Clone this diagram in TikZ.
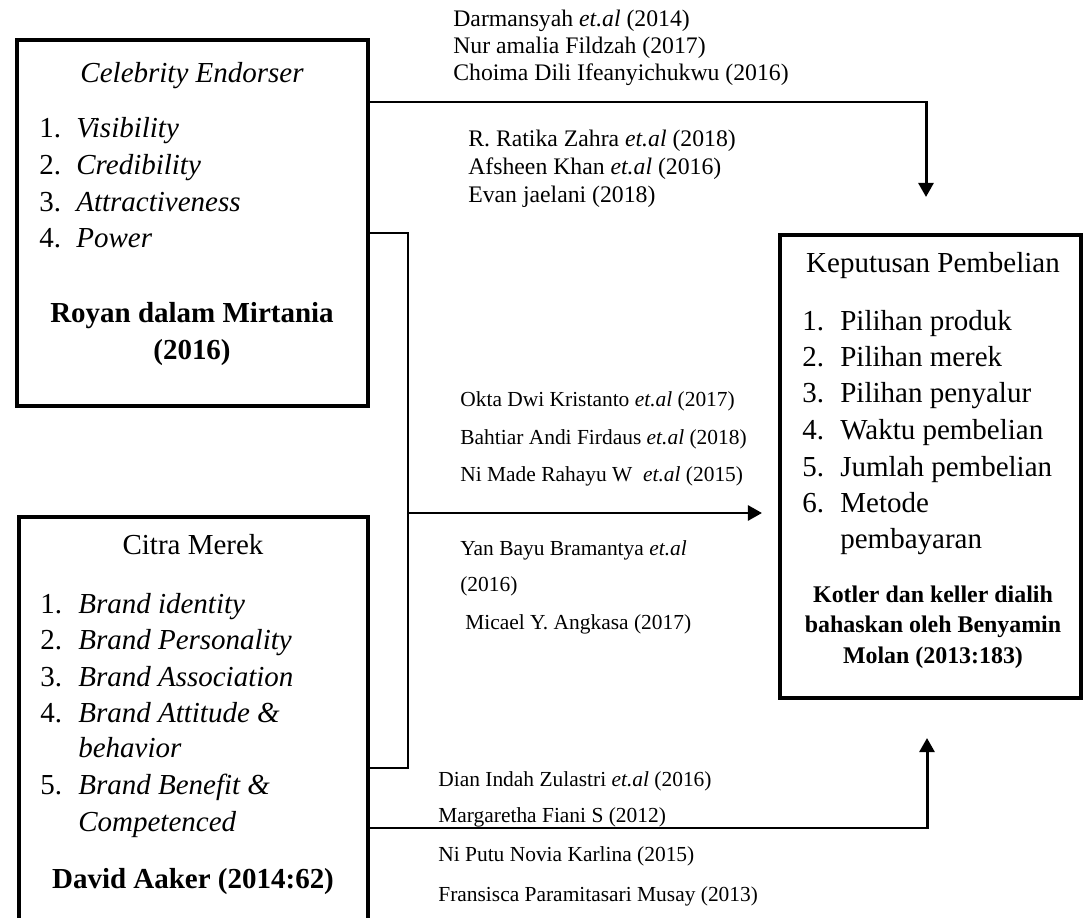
\documentclass[tikz,border=0pt]{standalone}
\usepackage{fontspec}
\setmainfont{Liberation Serif}
\usetikzlibrary{arrows.meta}

\begin{document}
\begin{tikzpicture}[
    x=0.02cm, y=-0.02cm,
    box/.style={rectangle, draw, line width=2.3pt, inner sep=0pt},
    txt/.style={inner sep=0pt, font=\fontsize{16.5}{20}\selectfont},
    ltxt/.style={txt, anchor=base west},
    ctxt/.style={txt, anchor=base},
    btxt/.style={inner sep=0pt, anchor=base, font=\fontsize{13.6}{16}\selectfont\bfseries},
    cite/.style={inner sep=0pt, anchor=base west, font=\fontsize{12.2}{14}\selectfont},
    bcite/.style={cite, font=\fontsize{13.5}{16}\selectfont},
    conn/.style={line width=1.7pt},
    arrow/.style={conn, -{Triangle[length=8pt,width=8.5pt]}},
]
\useasboundingbox (0,0) rectangle (1085,918);
% boxes
\node[box, minimum width=7.02cm, minimum height=7.32cm] (celeb) at (192.5,223) {};
\node[box, minimum width=6.98cm, minimum height=8.46cm] (citra) at (193.5,728.5) {};
\node[box, minimum width=6.02cm, minimum height=9.26cm] (kep)   at (930.5,466.5) {};
% Celebrity Endorser
\node[ctxt] (ce0) at (192,83) {\itshape Celebrity Endorser};
\node[ltxt] (ce1n) at (39,138) {1.};
\node[ltxt] (ce1)  at (76,138) {\itshape Visibility};
\node[ltxt] (ce2n) at (39,175) {2.};
\node[ltxt] (ce2)  at (76,175) {\itshape Credibility};
\node[ltxt] (ce3n) at (39,212) {3.};
\node[ltxt] (ce3)  at (76,212) {\itshape Attractiveness};
\node[ltxt] (ce4n) at (39,248) {4.};
\node[ltxt] (ce4)  at (76,248) {\itshape Power};
\node[ctxt] (ces1) at (192,323) {\bfseries Royan dalam Mirtania};
\node[ctxt] (ces2) at (192,360) {\bfseries (2016)};
% Citra Merek
\node[ctxt] (cm0) at (193,555) {Citra Merek};
\node[ltxt] (cm1n) at (40,613) {1.};
\node[ltxt] (cm1)  at (78,613) {\itshape Brand identity};
\node[ltxt] (cm2n) at (40,649) {2.};
\node[ltxt] (cm2)  at (78,649) {\itshape Brand Personality};
\node[ltxt] (cm3n) at (40,686) {3.};
\node[ltxt] (cm3)  at (78,686) {\itshape Brand Association};
\node[ltxt] (cm4n) at (40,722) {4.};
\node[ltxt] (cm4)  at (78,722) {\itshape Brand Attitude \&};
\node[ltxt] (cm4b) at (78,757) {\itshape behavior};
\node[ltxt] (cm5n) at (40,794) {5.};
\node[ltxt] (cm5)  at (78,794) {\itshape Brand Benefit \&};
\node[ltxt] (cm5b) at (78,831) {\itshape Competenced};
\node[ctxt] (cms)  at (193,888) {\bfseries David Aaker (2014:62)};
% Keputusan Pembelian
\node[ctxt] (kp0) at (933,273) {Keputusan Pembelian};
\node[ltxt] (kp1n) at (802,331) {1.};
\node[ltxt] (kp1)  at (840,331) {Pilihan produk};
\node[ltxt] (kp2n) at (802,367) {2.};
\node[ltxt] (kp2)  at (840,367) {Pilihan merek};
\node[ltxt] (kp3n) at (802,403) {3.};
\node[ltxt] (kp3)  at (840,403) {Pilihan penyalur};
\node[ltxt] (kp4n) at (802,440) {4.};
\node[ltxt] (kp4)  at (840,440) {Waktu pembelian};
\node[ltxt] (kp5n) at (802,477) {5.};
\node[ltxt] (kp5)  at (840,477) {Jumlah pembelian};
\node[ltxt] (kp6n) at (802,513) {6.};
\node[ltxt] (kp6)  at (840,513) {Metode};
\node[ltxt] (kp6b) at (840,548) {pembayaran};
\node[btxt] (kps1) at (933,602) {Kotler dan keller dialih};
\node[btxt] (kps2) at (933,632) {bahaskan oleh Benyamin};
\node[btxt] (kps3) at (933,663) {Molan (2013:183)};
% citations
\node[bcite] (r1) at (453,27) {Darmansyah \textit{et.al} (2014)};
\node[bcite] (r2) at (453,54) {Nur amalia Fildzah (2017)};
\node[bcite] (r3) at (453,81) {Choima Dili Ifeanyichukwu (2016)};
\node[bcite] (r4) at (468,147) {R. Ratika Zahra \textit{et.al} (2018)};
\node[bcite] (r5) at (468,175) {Afsheen Khan \textit{et.al} (2016)};
\node[bcite] (r6) at (468,203) {Evan jaelani (2018)};
\node[cite] (r7)  at (460,407) {Okta Dwi Kristanto \textit{et.al} (2017)};
\node[cite] (r8)  at (460,445) {Bahtiar Andi Firdaus \textit{et.al} (2018)};
\node[cite] (r9)  at (460,481) {Ni Made Rahayu W\ \ \textit{et.al} (2015)};
\node[cite] (r10) at (460,556) {Yan Bayu Bramantya \textit{et.al}};
\node[cite] (r11) at (460,591) {(2016)};
\node[cite] (r12) at (465,629) {Micael Y. Angkasa (2017)};
\node[cite] (r13) at (438,786) {Dian Indah Zulastri \textit{et.al} (2016)};
\node[cite] (r14) at (438,822) {Margaretha Fiani S (2012)};
\node[cite] (r15) at (438,861) {Ni Putu Novia Karlina (2015)};
\node[cite] (r16) at (438,901) {Fransisca Paramitasari Musay (2013{\large)}};
% bends and tips
\coordinate (a1) at (926,102);
\coordinate (t1) at (926,197);
\coordinate (b1) at (408,233);
\coordinate (b2) at (408,768);
\coordinate (t2) at (762,513);
\coordinate (b3) at (927,828);
\coordinate (t3) at (927,738);
% connectors
\draw[arrow] (celeb.east |- a1) -- (a1) -- (t1);
\draw[conn] (celeb.east |- b1) -- (b1) -- (b2) -- (b2 -| citra.east);
\draw[arrow] (b1 |- t2) -- (t2);
\draw[arrow] (b3 -| citra.east) -- (b3) -- (t3);
\end{tikzpicture}
\end{document}
